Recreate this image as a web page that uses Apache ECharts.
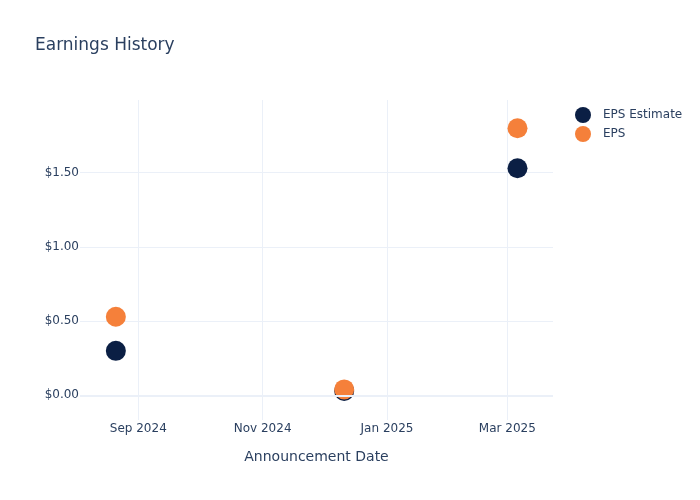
<!DOCTYPE html>
<html>
<head>
<meta charset="utf-8">
<script src="https://cdn.jsdelivr.net/npm/echarts@6/dist/echarts.min.js"></script>
<style>html,body{margin:0;padding:0;background:#fff}#c{width:700px;height:500px}</style>
</head>
<body>
<div id="c"></div>
<script>
var dates = ['2024-08-21', '2024-12-11', '2025-03-06'];
var epsEstimate = [0.30, 0.03, 1.53];
var eps = [0.53, 0.04, 1.80];
var monthNames = ['Jan','Feb','Mar','Apr','May','Jun','Jul','Aug','Sep','Oct','Nov','Dec'];
var xMin = '2024-08-03 10:00', xMax = '2025-03-23 10:00';
var yMin = -0.166, yMax = 1.99;

var txt = '#2a3f5f', grid = '#EBF0F8', font = 'DejaVu Sans';
function pairs(vals){ return dates.map(function(d,i){ return [d, vals[i]]; }); }

var chart = echarts.init(document.getElementById('c'));
chart.setOption({
  animation: false,
  textStyle: {fontFamily: font},
  title: {text: 'Earnings History', left: 35, top: 37, padding: 0,
    textStyle: {fontFamily: font, fontSize: 17, fontWeight: 'normal', color: txt}},
  legend: {orient: 'vertical', left: 575, top: 107, padding: 0, itemWidth: 16, itemHeight: 16, itemGap: 3,
    icon: 'circle', textStyle: {fontFamily: font, fontSize: 12, color: txt, padding: [0, 0, 0, 7]},
    data: ['EPS Estimate', 'EPS']},
  grid: {left: 80, right: 147, top: 100, bottom: 80, containLabel: false},
  xAxis: {type: 'time', min: xMin, max: xMax, splitNumber: 3,
    name: 'Announcement Date', nameLocation: 'middle', nameGap: 30,
    nameTextStyle: {fontFamily: font, fontSize: 14, color: txt},
    axisLine: {show: false}, axisTick: {show: false},
    axisLabel: {margin: 3, fontFamily: font, fontSize: 12, color: txt, showMinLabel: false, showMaxLabel: false,
      formatter: function(v){ var d = new Date(v); return monthNames[d.getMonth()] + ' ' + d.getFullYear(); }},
    splitLine: {show: true, showMinLine: false, showMaxLine: false, lineStyle: {color: grid, width: 1}}},
  yAxis: {type: 'value', min: yMin, max: yMax,
    axisLine: {show: false}, axisTick: {show: false},
    axisLabel: {margin: 1, padding: [3, 0, 0, 0], fontFamily: font, fontSize: 12, color: txt, showMinLabel: false, showMaxLabel: false,
      formatter: function(v){ return Math.abs(v*2 - Math.round(v*2)) < 1e-6 ? '$' + v.toFixed(2) : ''; }},
    splitLine: {show: true, showMinLine: false, showMaxLine: false, lineStyle: {color: grid, width: 1}}},
  series: [
    {name: 'EPS Estimate', type: 'scatter', symbolSize: 20, data: pairs(epsEstimate),
      itemStyle: {color: '#0b1f44', opacity: 1},
      markLine: {silent: true, symbol: 'none', label: {show: false},
        lineStyle: {color: grid, width: 2, type: 'solid'}, data: [{yAxis: 0}]}},
    {name: 'EPS', type: 'scatter', symbolSize: 20, data: pairs(eps),
      itemStyle: {color: '#f5803a', opacity: 1}}
  ]
});
</script>
</body>
</html>
